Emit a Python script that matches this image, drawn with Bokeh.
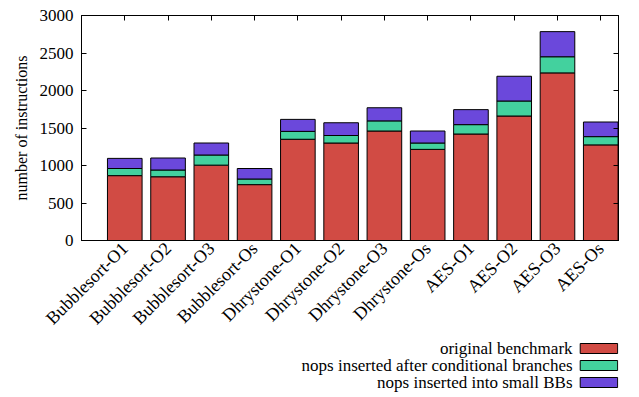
import math
from bokeh.plotting import figure
from bokeh.layouts import column
from bokeh.models import Range1d, FixedTicker, LinearAxis
from bokeh.core.properties import value
from bokeh.embed import file_html
from bokeh.resources import INLINE

benchmarks = ["Bubblesort-O1", "Bubblesort-O2", "Bubblesort-O3", "Bubblesort-Os",
              "Dhrystone-O1", "Dhrystone-O2", "Dhrystone-O3", "Dhrystone-Os",
              "AES-O1", "AES-O2", "AES-O3", "AES-Os"]
original = [865, 850, 1005, 745, 1350, 1300, 1460, 1215, 1420, 1660, 2235, 1275]
after_branches = [95, 90, 135, 75, 105, 100, 135, 85, 125, 200, 215, 110]
small_bbs = [135, 160, 160, 140, 160, 170, 175, 160, 200, 330, 335, 195]
series_names = ["original benchmark", "nops inserted after conditional branches",
                "nops inserted into small BBs"]
colors = ["#D14B44", "#43D19E", "#6B48DB"]
y_ticks = [0, 500, 1000, 1500, 2000, 2500, 3000]

FONT = "Liberation Serif"
W = 631
H_MAIN = 338
H_LEG = 56

xs = list(range(len(benchmarks)))
data = dict(x=xs, s0=original, s1=after_branches, s2=small_bbs)

p = figure(width=W, height=H_MAIN, output_backend="svg", toolbar_location=None,
           x_range=Range1d(-1, 11.41), y_range=Range1d(0, 3000),
           min_border_left=81, min_border_right=13, min_border_top=15,
           min_border_bottom=H_MAIN - 15 - 228, tools="")
p.background_fill_color = "white"
p.border_fill_color = "white"
p.outline_line_color = "black"
p.outline_line_width = 1
p.xgrid.visible = False
p.ygrid.visible = False

p.vbar_stack(["s0", "s1", "s2"], x="x", width=0.8, source=data,
             color=colors, line_color="black", line_width=1)

ax = p.xaxis[0]
ax.ticker = FixedTicker(ticks=xs)
ax.major_label_overrides = {i: b for i, b in enumerate(benchmarks)}
ax.major_label_orientation = math.pi / 4
ax.major_tick_in = 0
ax.major_tick_out = 0
ax.minor_tick_in = 0
ax.minor_tick_out = 0
ax.axis_line_color = "black"
ax.major_label_text_font = FONT
ax.major_label_text_font_size = "18px"
ax.major_label_text_color = "black"
ax.major_label_standoff = 5

top = LinearAxis(ticker=FixedTicker(ticks=xs), major_label_text_font_size="0px",
                 major_tick_in=5, major_tick_out=0, minor_tick_in=0, minor_tick_out=0,
                 axis_line_color="black", major_label_text_alpha=0)
p.add_layout(top, "above")

ay = p.yaxis[0]
ay.ticker = FixedTicker(ticks=y_ticks)
ay.major_tick_in = 5
ay.major_tick_out = 0
ay.minor_tick_in = 0
ay.minor_tick_out = 0
ay.axis_line_color = "black"
ay.major_label_text_font = FONT
ay.major_label_text_font_size = "17px"
ay.major_label_text_color = "black"
ay.major_label_standoff = 8
ay.axis_label = "number of instructions"
ay.axis_label_text_font = FONT
ay.axis_label_text_font_size = "16px"
ay.axis_label_text_font_style = "normal"
ay.axis_label_text_color = "black"
ay.axis_label_standoff = 7

right = LinearAxis(ticker=FixedTicker(ticks=y_ticks), major_label_text_font_size="0px",
                   major_label_text_alpha=0,
                   major_tick_in=5, major_tick_out=0, minor_tick_in=0, minor_tick_out=0,
                   axis_line_color="black")
p.add_layout(right, "right")

# legend strip below: labels to the left of swatches (pixel-like data coords)
leg = figure(width=W, height=H_LEG, output_backend="svg", toolbar_location=None,
             x_range=Range1d(0, W), y_range=Range1d(H_LEG, 0),
             min_border=0, tools="")
leg.axis.visible = False
leg.grid.visible = False
leg.outline_line_color = None
leg.background_fill_color = "white"
leg.border_fill_color = "white"
rows = [10, 27, 44]
leg.text(x=[577] * 3, y=rows, text=series_names, text_font=value(FONT),
         text_font_size="17px", text_align="right", text_baseline="middle",
         text_color="black")
leg.rect(x=[608] * 3, y=rows, width=44, height=10, fill_color=colors,
         line_color="black", line_width=1)

layout = column(p, leg, spacing=0)
open("out.html", "w").write(file_html(layout, INLINE))
